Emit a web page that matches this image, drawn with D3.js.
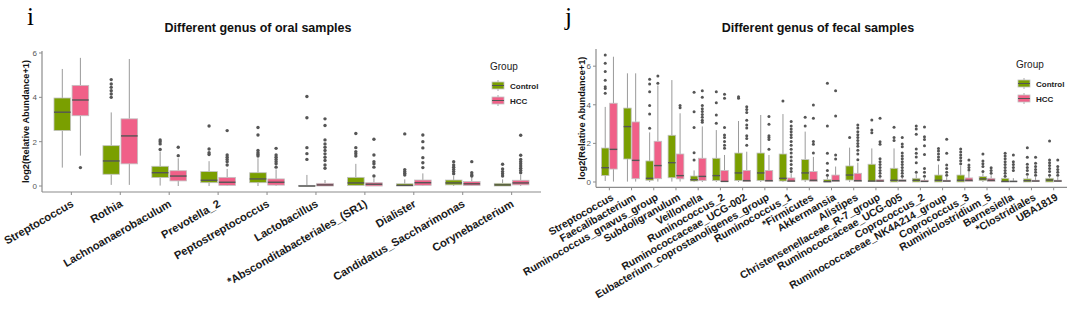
<!DOCTYPE html>
<html><head><meta charset="utf-8">
<script src="https://cdnjs.cloudflare.com/ajax/libs/d3/7.8.5/d3.min.js"></script>
<style>body{margin:0;background:#fff;}svg{display:block;font-family:"Liberation Sans",Arial,sans-serif;}</style>
</head><body>
<svg id="chart" width="1080" height="327"></svg>
<script>
// ---------- DATA ----------
const groups = ["Control", "HCC"];
const yTicks = [0, 2, 4, 6];

const oralCategories = ["Streptococcus","Rothia","Lachnoanaerobaculum","Prevotella_2","Peptostreptococcus","Lactobacillus","*Absconditabacteriales_(SR1)","Dialister","Candidatus_Saccharimonas","Corynebacterium"];
// [whiskerLow, Q1, median, Q3, whiskerHigh]
const oralControlStats = [[0.83,2.5,3.33,3.97,5.28],[0.05,0.53,1.13,1.82,3.32],[0.02,0.38,0.6,0.89,1.55],[0,0.15,0.26,0.65,1.12],[0,0.15,0.32,0.6,1.25],[0,0,0,0.03,0.5],[0,0.02,0.14,0.39,1.0],[0,0,0.03,0.1,0.3],[0,0.05,0.14,0.27,0.45],[0,0,0.05,0.12,0.3]];
const oralControlOutliers = [[],[4.0,4.15,4.3,4.45,4.6,4.8],[1.65,1.9,2.0,2.08],[1.42,1.5,1.67,2.71],[1.35,1.42,1.5,1.6,2.3,2.64],[1.2,1.46,1.73,3.08,4.04],[1.35,1.45,1.55,1.73,2.37],[0.5,0.58,0.66,0.74,2.35],[0.55,0.65,0.75,0.85,0.95,1.1],[0.45,0.55,0.65,0.77,0.98]];
const oralHCCStats = [[1.37,3.17,3.88,4.54,5.78],[0.05,1.0,2.26,3.03,5.73],[0,0.23,0.45,0.69,1.25],[0,0.03,0.17,0.39,0.77],[0,0.04,0.17,0.32,0.75],[0,0,0.05,0.12,0.27],[0,0,0.08,0.15,0.35],[0,0.03,0.15,0.27,0.57],[0,0.02,0.1,0.2,0.4],[0,0.05,0.14,0.26,0.5]];
const oralHCCOutliers = [[0.83],[],[1.37,1.75],[0.95,1.1,1.2,1.3,1.4,2.5],[0.85,1.0,1.1,1.2,1.3,1.4,1.7],[0.8,0.95,1.15,1.3,1.45,1.6,1.75,1.9,2.08,2.73,3.03],[0.45,0.85,1.0,1.1,1.4,2.11],[0.83,1.05,1.28,1.72,2.0,2.3],[0.45,0.5,0.6,1.1],[0.6,0.7,0.8,0.9,1.0,1.1,1.2,1.39,2.29]];

const fecalCategories = ["Streptococcus","Faecalibacterium","Ruminococcus_gnavus_group","Subdoligranulum","Veillonella","Ruminococcus_2","Ruminococcaceae_UCG-002","Eubacterium_coprostanoligenes_group","Ruminococcus_1","*Firmicutes","Akkermansia","Alistipes","Christensenellaceae_R-7_group","Ruminococcaceae_UCG-005","Coprococcus_2","Ruminococcaceae_NK4A214_group","Coprococcus_3","Ruminiclostridium_5","Barnesiella","*Clostridiales","UBA1819"];
const fecalControlStats = [[0.05,0.33,0.74,1.76,3.89],[0.02,1.19,2.87,3.83,5.63],[0,0.09,0.19,1.09,2.57],[0.02,0.22,1.0,2.42,5.28],[0,0.05,0.12,0.31,0.6],[0,0.07,0.33,1.23,2.69],[0,0.07,0.47,1.5,3.16],[0,0.07,0.47,1.5,3.47],[0,0.05,0.19,1.45,3.52],[0,0.1,0.47,1.16,2.61],[0,0,0.02,0.12,0.3],[0,0.1,0.36,0.83,1.78],[0,0.02,0.05,0.92,1.74],[0,0,0.09,0.71,1.74],[0,0,0.09,0.19,0.4],[0,0,0.09,0.36,0.9],[0,0,0.09,0.36,0.85],[0,0.07,0.16,0.28,0.45],[0,0,0.03,0.19,0.25],[0,0,0.07,0.16,0.3],[0,0,0.1,0.19,0.3]];
const fecalControlOutliers = [[4.6,4.85,4.94,5.27,5.72,6.15,6.58],[],[2.78,3.52,3.96,4.68,5.08,5.32],[],[1.14,1.52,2.82,3.64,4.65],[3.04,3.47,4.11,4.68],[4.34,4.42],[],[4.2],[2.9,3.35],[0.35,0.6,0.97,1.49,2.9,5.11],[2.3],[2.55,2.69,3.21],[2.15,2.3,2.83],[0.5,1.0,1.3,1.49,1.71,2.47,2.75,2.9],[1.15,1.3,1.45,1.6,1.74],[0.95,1.1,1.25,1.4,1.55,1.71],[0.54,0.8,0.95,1.09,1.45],[0.3,0.45,0.6,0.75,0.9,1.05,1.2,1.35,1.49],[0.4,0.6,0.75,0.92,1.28,1.78],[0.35,0.55,0.7,0.85,1.0,1.14,2.12]];
const fecalHCCStats = [[0.02,0.67,1.69,4.08,6.49],[0.02,0.17,1.12,3.11,5.63],[0.02,0.17,0.85,2.11,5.0],[0.02,0.16,0.33,1.45,3.56],[0,0.07,0.29,1.23,2.88],[0,0.02,0.03,0.6,1.4],[0,0.02,0.07,0.6,1.57],[0,0.02,0.07,0.6,1.4],[0,0.02,0.05,0.21,0.45],[0,0.02,0.09,0.54,1.3],[0,0.02,0.07,0.36,0.8],[0,0.02,0.07,0.45,1.0],[0,0.02,0.05,0.12,0.25],[0,0.02,0.07,0.12,0.25],[0,0.02,0.03,0.09,0.2],[0,0.02,0.05,0.09,0.25],[0,0.02,0.09,0.21,0.54],[0,0.02,0.09,0.19,0.35],[0,0.02,0.03,0.05,0.2],[0,0.02,0.05,0.09,0.25],[0,0.02,0.05,0.09,0.25]];
const fecalHCCOutliers = [[],[],[5.11,5.49],[3.85,3.96],[3.1,3.2,3.35,3.5,3.65,3.8,3.96,4.39,4.73],[1.75,1.9,2.1,2.3,2.44,2.82,4.34,4.54],[1.9,2.25,2.4,2.8,2.95,3.2,3.6,3.75,3.9],[1.69,2.2,2.3,2.4,2.99,3.39],[0.55,0.7,0.9,1.1,1.3,1.5,1.7,1.9,2.1,2.3,2.45,2.6,2.75,2.9,3.13],[1.5,1.95,2.1,3.3,3.99],[1.19,1.4,3.42,4.73],[1.15,1.45,1.65,1.85,2.0,2.15,2.3,2.45,2.6,2.8,2.95],[0.3,0.45,0.6,0.75,0.9,1.05,1.2,1.95,2.09,3.3],[0.3,0.45,0.6,0.75,0.9,1.05,1.2,1.35,1.5,1.83,1.97,2.3],[0.3,0.5,0.7,1.43,1.88,2.2,2.35,2.85],[0.35,0.5,0.7,0.88,1.49,2.21],[0.62,0.75,0.88,1.14],[0.45,0.6,0.74],[0.6,0.75,0.9,1.05,1.4],[0.35,0.5,0.65,0.8,0.97,1.28],[0.35,0.5,0.65,0.8,1.14]];

// ---------- STYLE ----------
const colors = {Control: "#7a9f00", HCC: "#f06088"};
const svg = d3.select("#chart");

function drawPanel(o) {
  const g = svg.append("g");
  const x = d3.scalePoint().domain(o.categories).range([o.x0, o.x1]).padding(0.6);
  const y = d3.scaleLinear().domain(o.yDomain).range([o.yBottom, o.yTop]);
  const step = x.step();
  const bw = step * 0.34, off = step * 0.185;

  // panel letter
  g.append("text").attr("x", o.letterX).attr("y", 25)
    .attr("font-family", "Liberation Serif, serif").attr("font-size", 25).text(o.letter);
  // title
  g.append("text").attr("x", o.titleX).attr("y", 32).attr("text-anchor", "middle")
    .attr("font-weight", "bold").attr("font-size", 12.5).attr("fill", "#111").text(o.title);

  // boxes
  const sets = [{grp: "Control", stats: o.controlStats, out: o.controlOut, dx: -off},
                {grp: "HCC", stats: o.hccStats, out: o.hccOut, dx: off}];
  sets.forEach(s => {
    o.categories.forEach((c, i) => {
      const [lo, q1, md, q3, hi] = s.stats[i];
      const cx = x(c) + s.dx;
      g.append("line").attr("x1", cx).attr("x2", cx).attr("y1", y(q3)).attr("y2", y(hi))
        .attr("stroke", "#9a9a9a").attr("stroke-width", 1);
      g.append("line").attr("x1", cx).attr("x2", cx).attr("y1", y(q1)).attr("y2", y(lo))
        .attr("stroke", "#9a9a9a").attr("stroke-width", 1);
      const top = y(q3), bot = y(q1);
      g.append("rect").attr("x", cx - bw / 2).attr("y", top).attr("width", bw)
        .attr("height", Math.max(bot - top, 0.8)).attr("fill", colors[s.grp])
        .attr("stroke", "#c2c2c2").attr("stroke-width", 0.8);
      g.append("line").attr("x1", cx - bw / 2).attr("x2", cx + bw / 2).attr("y1", y(md)).attr("y2", y(md))
        .attr("stroke", "#555").attr("stroke-width", 1.4);
      s.out[i].forEach(v => {
        g.append("circle").attr("cx", cx).attr("cy", y(v)).attr("r", o.r).attr("fill", "#555");
      });
    });
  });

  // axes
  const axisColor = "#8c8c8c";
  g.append("line").attr("x1", o.x0).attr("x2", o.x0).attr("y1", o.yTop).attr("y2", o.yBottom)
    .attr("stroke", axisColor).attr("stroke-width", 1.2);
  g.append("line").attr("x1", o.x0).attr("x2", o.x1).attr("y1", o.yBottom).attr("y2", o.yBottom)
    .attr("stroke", axisColor).attr("stroke-width", 1.2);
  yTicks.forEach(t => {
    if (y(t) < o.yTop) return;
    g.append("line").attr("x1", o.x0 - 3).attr("x2", o.x0).attr("y1", y(t)).attr("y2", y(t))
      .attr("stroke", axisColor);
    g.append("text").attr("x", o.x0 - 5).attr("y", y(t) + 3).attr("text-anchor", "end")
      .attr("font-size", 8).attr("fill", "#555").text(t);
  });
  o.categories.forEach(c => {
    g.append("line").attr("x1", x(c)).attr("x2", x(c)).attr("y1", o.yBottom).attr("y2", o.yBottom + 3)
      .attr("stroke", axisColor);
    g.append("text").attr("transform", `translate(${x(c) + o.labelDx},${o.yBottom + o.labelDy}) rotate(-30)`)
      .attr("text-anchor", "end").attr("font-weight", "bold").attr("font-size", o.labelSize)
      .attr("fill", "#1a1a1a").text(c);
  });
  // y title
  g.append("text").attr("transform", `translate(${o.yTitleX},${(o.yTop + o.yBottom) / 2}) rotate(-90)`)
    .attr("text-anchor", "middle").attr("font-weight", "bold").attr("font-size", 9.2).attr("fill", "#111")
    .text("log2(Relative Abundance+1)");

  // legend
  g.append("text").attr("x", o.legX - 2).attr("y", o.legY).attr("font-size", 10).attr("fill", "#222").text("Group");
  groups.forEach((grp, k) => {
    const ky = o.legY + 12 + k * 15;
    g.append("line").attr("x1", o.legX + 6).attr("x2", o.legX + 6).attr("y1", ky - 2).attr("y2", ky + 9)
      .attr("stroke", "#aaa");
    g.append("rect").attr("x", o.legX).attr("y", ky).attr("width", 12).attr("height", 7)
      .attr("fill", colors[grp]).attr("stroke", "#c2c2c2").attr("stroke-width", 0.8);
    g.append("line").attr("x1", o.legX).attr("x2", o.legX + 12).attr("y1", ky + 3.5).attr("y2", ky + 3.5)
      .attr("stroke", "#555").attr("stroke-width", 1);
    g.append("text").attr("x", o.legX + 18).attr("y", ky + 6.5).attr("font-size", 8)
      .attr("font-weight", "bold").attr("fill", "#222").text(grp);
  });
}

drawPanel({
  categories: oralCategories, controlStats: oralControlStats, controlOut: oralControlOutliers,
  hccStats: oralHCCStats, hccOut: oralHCCOutliers,
  x0: 42, x1: 541, yTop: 51, yBottom: 192, yDomain: [-0.27, 6.09], r: 1.7,
  letter: "i", letterX: 27, title: "Different genus of oral samples", titleX: 258,
  yTitleX: 29, labelDx: 3, labelDy: 14, labelSize: 11.2, legX: 492, legY: 70
});
drawPanel({
  categories: fecalCategories, controlStats: fecalControlStats, controlOut: fecalControlOutliers,
  hccStats: fecalHCCStats, hccOut: fecalHCCOutliers,
  x0: 596, x1: 1067, yTop: 49, yBottom: 187.3, yDomain: [-0.275, 6.89], r: 1.5,
  letter: "j", letterX: 565, title: "Different genus of fecal samples", titleX: 818,
  yTitleX: 585, labelDx: 5, labelDy: 12, labelSize: 10.5, legX: 1018, legY: 68
});
</script>
</body></html>
